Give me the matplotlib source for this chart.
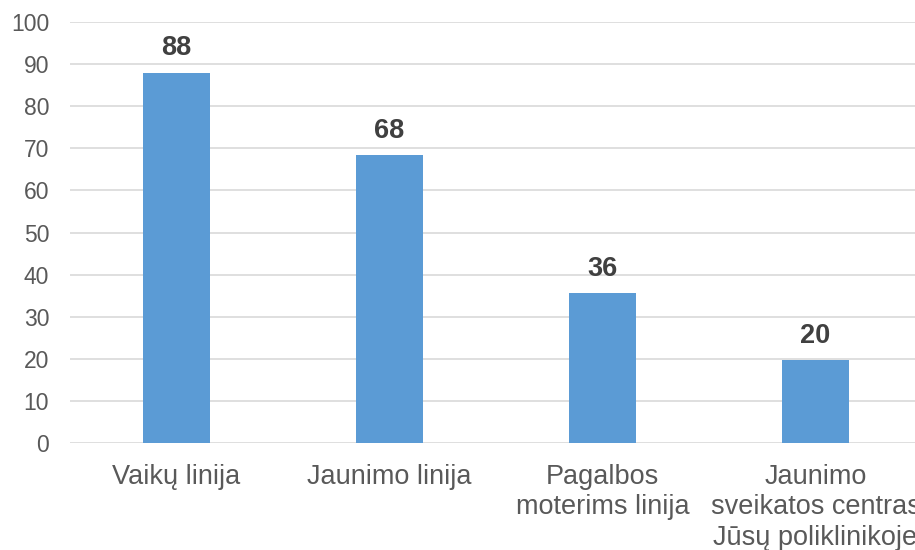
import matplotlib.pyplot as plt

# duomenys
categories = ['Vaikų linija', 'Jaunimo linija', 'Pagalbos\nmoterims linija',
              'Jaunimo\nsveikatos centras\nJūsų poliklinikoje']
values = [88, 68.3, 35.6, 19.8]
labels = ['88', '68', '36', '20']
yticks = [0, 10, 20, 30, 40, 50, 60, 70, 80, 90, 100]

plt.rcParams['font.family'] = ['Liberation Sans', 'DejaVu Sans']

fig = plt.figure(figsize=(9.15, 5.5), dpi=100)
ax = fig.add_axes([70 / 915, 107 / 550, 852 / 915, 421 / 550])

x = list(range(len(categories)))
bars = ax.bar(x, values, width=0.315, color='#5B9BD5', zorder=3)

for b, lab in zip(bars, labels):
    ax.annotate(lab, (b.get_x() + b.get_width() / 2, b.get_height()),
                xytext=(0, 8), textcoords='offset points',
                ha='center', va='bottom', fontsize=19.5, fontweight='bold',
                color='#404040')

ax.set_xlim(-0.5, len(categories) - 0.5)
ax.set_ylim(0, 100)
ax.set_yticks(yticks)
ax.set_xticks(x)
ax.set_xticklabels(categories, fontsize=19.5, color='#595959', linespacing=1.22)
ax.tick_params(axis='y', labelsize=16.5, colors='#595959', length=0, pad=15)
ax.tick_params(axis='x', length=0, pad=15)
ax.grid(axis='y', color='#D9D9D9', linewidth=1.2, zorder=0)
for s in ax.spines.values():
    s.set_visible(False)

fig.savefig('out.png', dpi=100)
